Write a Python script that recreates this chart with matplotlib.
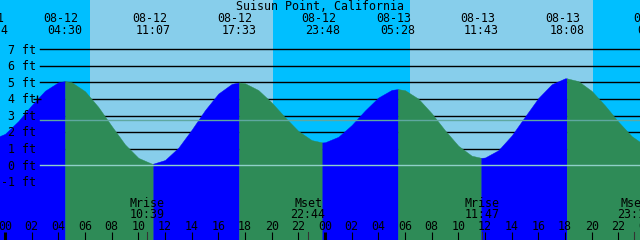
import numpy as np
import matplotlib
matplotlib.use("Agg")
import matplotlib.pyplot as plt
from matplotlib import transforms

title = "Suisun Point, California"

# tide extremes (hours from 08-12 00:00), heights in ft
ext_hours = [-1.1, 4.5, 11.12, 17.55, 23.8, 29.47, 35.72, 42.13, 48.72]
ext_ft = [1.55, 5.08, 0.10, 5.00, 1.38, 4.60, 0.45, 5.25, 1.05]
ext_dates = ["08-11", "08-12", "08-12", "08-12", "08-12", "08-13", "08-13", "08-13", "08-14"]
ext_times = ["22:54", "04:30", "11:07", "17:33", "23:48", "05:28", "11:43", "18:08", "00:43"]

# hourly tide readings
tide_hours = list(range(-1, 49))
tide_ft = [1.56, 1.90, 2.67, 3.63, 4.50, 5.01, 5.01, 4.47, 3.52, 2.37,
           1.26, 0.45, 0.10, 0.32, 1.06, 2.15, 3.33, 4.33, 4.91, 4.95,
           4.54, 3.79, 2.90, 2.07, 1.52, 1.39, 1.72, 2.43, 3.31, 4.09,
           4.55, 4.53, 4.02, 3.14, 2.11, 1.18, 0.58, 0.47, 0.91, 1.80,
           2.94, 4.06, 4.89, 5.25, 5.08, 4.49, 3.61, 2.63, 1.76, 1.20]

# daylight (hours)
sunrise_hours = [6.37, 30.38]
sunset_hours = [20.08, 44.10]

# moon events
moon_labels = ["Mrise", "Mset", "Mrise", "Mset"]
moon_times = ["10:39", "22:44", "11:47", "23:12"]
moon_hours = [10.65, 22.73, 35.78, 47.20]

# axis ticks
hour_ticks = list(range(0, 50, 2))
ft_levels = [7, 6, 5, 4, 3, 2, 1, 0, -1]
ft_labels = ["7 ft", "6 ft", "5 ft", "4 ft", "3 ft", "2 ft", "1 ft", "0 ft", "-1 ft"]
mean_level = 2.72

W, H = 640, 240
fig = plt.figure(figsize=(6.4, 2.4), dpi=100)
ax = fig.add_axes([0, 0, 1, 1])
ax.set_axis_off()

px_per_h = 640 / 48.0
x0 = -5 / px_per_h
ax.set_xlim(x0, x0 + 48)
px_per_ft = 16.57
zero_py = 165.3
ax.set_ylim(-(H - zero_py) / px_per_ft, zero_py / px_per_ft)
ymin = ax.get_ylim()[0]

NIGHT = "#00BFFF"
DAY = "#87CEEB"
FLOOD = "#0000FF"
EBB = "#2E8B57"

# sky
ax.axvspan(x0 - 1, x0 + 49, color=NIGHT, lw=0, zorder=0)
for sr, ss in zip(sunrise_hours, sunset_hours):
    ax.axvspan(sr, ss, color=DAY, lw=0, zorder=0.5)

# grid lines behind water
xfrac = 40 / W
for lv in [7, 6, 5, 4, 3, 2, 1]:
    ax.axhline(lv, xmin=xfrac, xmax=1, color="black", lw=1.0, zorder=1)
ax.plot([(37 - 5) / px_per_h], [4], marker="+", color="black", ms=6, mew=1.0, zorder=4)

# water
T = np.array(tide_hours + ext_hours, dtype=float)
Hh = np.array(tide_ft + ext_ft, dtype=float)
order = np.argsort(T)
T, Hh = T[order], Hh[order]
for i in range(len(ext_hours) - 1):
    t0, t1 = ext_hours[i], ext_hours[i + 1]
    m = (T >= t0) & (T <= t1)
    col = FLOOD if ext_ft[i + 1] > ext_ft[i] else EBB
    ax.fill_between(T[m], ymin, Hh[m], color=col, lw=0.3, edgecolor=col, zorder=2)

# overlay lines
ax.axhline(mean_level, xmin=xfrac, xmax=1, color="#5FA8A0", lw=1.0, zorder=3)
ax.axhline(0, xmin=xfrac, xmax=1, color="#8FD0C8", lw=1.0, zorder=3)

font = dict(family="DejaVu Sans Mono", fontsize=8.4, color="black")
bt = transforms.blended_transform_factory(ax.transData, ax.transAxes)

def fy(py):
    return 1 - py / H

ax.text(0.5, fy(10), title, transform=ax.transAxes, ha="center", va="baseline", zorder=5, **font)

date_tr = transforms.offset_copy(bt, fig=fig, x=-4, y=0, units="dots")
for h, d, t in zip(ext_hours, ext_dates, ext_times):
    ax.text(h, fy(21.7), d, transform=date_tr, ha="center", va="baseline", zorder=5, **font)
    ax.text(h, fy(34), t, transform=bt, ha="center", va="baseline", zorder=5, **font)

yl_tr = transforms.blended_transform_factory(ax.transAxes, ax.transData)
yl_tr = transforms.offset_copy(yl_tr, fig=fig, x=0, y=-4.2, units="dots")
for lv, lab in zip(ft_levels, ft_labels):
    ax.text(36 / W, lv, lab, transform=yl_tr, ha="right", va="baseline", zorder=5, **font)

for lab, t, h in zip(moon_labels, moon_times, moon_hours):
    ax.text(h, fy(206.7), lab, transform=bt, ha="center", va="baseline", zorder=5, **font)
    ax.text(h, fy(218.3), t, transform=bt, ha="center", va="baseline", zorder=5, **font)
    ax.plot([h, h], [fy(232), fy(240)], transform=bt, color="#333333", lw=0.8, zorder=4)

for h in hour_ticks:
    ax.text(h, fy(229.5), f"{h % 24:02d}", transform=bt, ha="center", va="baseline", zorder=5, **font)
    lw = 2.2 if h % 24 == 0 else 0.8
    ax.plot([h, h], [fy(232), fy(240)], transform=bt, color="black", lw=lw,
            solid_capstyle="butt", zorder=4)

fig.savefig("out.png", dpi=100)
